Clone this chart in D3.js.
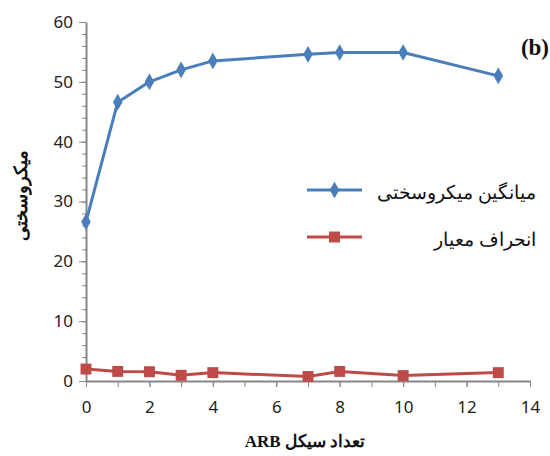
<!DOCTYPE html>
<html><head><meta charset="utf-8">
<script src="https://cdn.jsdelivr.net/npm/d3@7"></script>
<style>body{margin:0;background:#fff}svg{display:block}</style>
</head><body>
<script>
const cycles = [0, 1, 2, 3, 4, 7, 8, 10, 13];
const meanHardness = [26.6, 46.6, 50.0, 52.0, 53.5, 54.6, 54.9, 54.9, 51.0];
const stdDev = [2.0, 1.6, 1.55, 0.95, 1.4, 0.75, 1.6, 0.9, 1.4];
const seriesNames = ["میانگین میکروسختی", "انحراف معیار"];
const xTicks = [0, 2, 4, 6, 8, 10, 12, 14];
const yTicks = [0, 10, 20, 30, 40, 50, 60];
const xTitle = "تعداد سیکل ARB";
const yTitle = "میکروسختی";
const panelLabel = "(b)";

const W = 550, H = 456;
const svg = d3.select("body").append("svg").attr("width", W).attr("height", H);
const x = d3.scaleLinear().domain([0, 14]).range([86, 530]);
const y = d3.scaleLinear().domain([0, 60]).range([381, 22]);
const axisColor = "#868686";
const font = "'Noto Sans', 'Liberation Sans', sans-serif";

// minor ticks
svg.append("g").attr("transform", `translate(${x(0)},0)`)
  .call(d3.axisLeft(y).tickValues(d3.range(0, 61, 2)).tickSize(4).tickFormat(""))
  .call(g => { g.selectAll("line").attr("stroke", axisColor); g.select(".domain").remove(); });
svg.append("g").attr("transform", `translate(0,${y(0)})`)
  .call(d3.axisBottom(x).tickValues(d3.range(0, 15, 1)).tickSize(6).tickFormat(""))
  .call(g => { g.selectAll("line").attr("stroke", axisColor); g.select(".domain").remove(); });

// major axes
const yAxis = svg.append("g").attr("transform", `translate(${x(0)},0)`)
  .call(d3.axisLeft(y).tickValues(yTicks).tickSize(7).tickSizeOuter(0).tickPadding(6));
const xAxis = svg.append("g").attr("transform", `translate(0,${y(0)})`)
  .call(d3.axisBottom(x).tickValues(xTicks).tickSize(6).tickSizeOuter(0).tickPadding(14));
[yAxis, xAxis].forEach(g => {
  g.select(".domain").attr("stroke", axisColor).attr("stroke-width", 2);
  g.selectAll(".tick line").attr("stroke", axisColor);
  g.selectAll("text").attr("font-family", font).attr("font-size", 17).attr("fill", "#222");
});

const blue = "#4a7ebb", red = "#be4b48";
const line = d3.line().x((d, i) => x(cycles[i])).y(d => y(d));

svg.append("path").datum(meanHardness).attr("d", line)
  .attr("fill", "none").attr("stroke", blue).attr("stroke-width", 3).attr("stroke-linejoin", "round");
svg.append("path").datum(stdDev).attr("d", line)
  .attr("fill", "none").attr("stroke", red).attr("stroke-width", 3);

const diamond = d3.symbol().type(d3.symbolDiamond).size(80);
const square = d3.symbol().type(d3.symbolSquare).size(120);
svg.append("g").selectAll("path").data(meanHardness).join("path")
  .attr("d", diamond).attr("fill", blue)
  .attr("transform", (d, i) => `translate(${x(cycles[i])},${y(d)})`);
svg.append("g").selectAll("path").data(stdDev).join("path")
  .attr("d", square).attr("fill", red)
  .attr("transform", (d, i) => `translate(${x(cycles[i])},${y(d)})`);

// legend
const leg = [{c: blue, s: diamond, yy: 190}, {c: red, s: square, yy: 237}];
leg.forEach((l, i) => {
  svg.append("line").attr("x1", 307).attr("x2", 362).attr("y1", l.yy).attr("y2", l.yy)
    .attr("stroke", l.c).attr("stroke-width", 3);
  svg.append("path").attr("d", l.s).attr("fill", l.c).attr("transform", `translate(334.5,${l.yy})`);
  svg.append("text").attr("x", 536).attr("y", l.yy + 9).attr("text-anchor", "start")
    .attr("direction", "rtl").attr("font-family", font).attr("font-size", 19).attr("fill", "#111")
    .text(seriesNames[i]);
});

// titles
svg.append("text").attr("x", 305).attr("y", 447).attr("text-anchor", "middle").attr("direction", "rtl")
  .attr("font-family", "'Liberation Serif', 'DejaVu Serif', serif").attr("font-weight", "bold")
  .attr("font-size", 17).attr("fill", "#111").text(xTitle);
svg.append("text").attr("transform", "translate(27,195) rotate(-90)").attr("text-anchor", "middle")
  .attr("font-family", "'Liberation Serif', 'DejaVu Serif', serif").attr("font-weight", "bold")
  .attr("font-size", 18).attr("fill", "#111").text(yTitle);
svg.append("text").attr("x", 549).attr("y", 55).attr("text-anchor", "end")
  .attr("font-family", "'Liberation Serif', serif").attr("font-weight", "bold")
  .attr("font-size", 23).attr("fill", "#111").text(panelLabel);
</script>
</body></html>
